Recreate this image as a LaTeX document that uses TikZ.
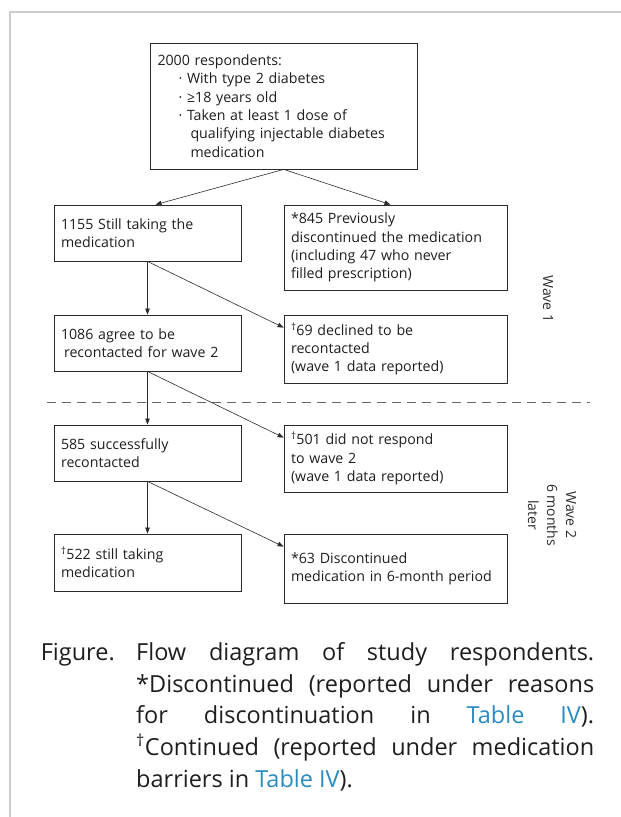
\documentclass[tikz,border=0pt]{standalone}
\usepackage{fontspec}
\setmainfont{Open Sans}
\usepackage{tikz}
\usetikzlibrary{arrows.meta, positioning, calc}
\definecolor{framegray}{HTML}{CCCCCC}
\definecolor{boxline}{HTML}{2B2B2B}
\definecolor{dashgray}{HTML}{666666}
\definecolor{linkblue}{HTML}{2A8BBF}
\definecolor{inkblack}{HTML}{1E1E1E}

\begin{document}
\begin{tikzpicture}[
    x=1pt, y=-1pt,
    flowbox/.style={draw=boxline, line width=0.8pt, align=left,
                    inner xsep=7pt, inner ysep=2pt, text=inkblack,
                    font=\fontsize{14.2}{18.3}\selectfont},
    leftbox/.style={flowbox, text width=173pt, minimum height=#1},
    rightbox/.style={flowbox, text width=209pt, minimum height=#1},
    conn/.style={-{Triangle[length=6pt,width=4.5pt]}, draw=boxline, line width=0.6pt},
    wavelabel/.style={rotate=-90, align=center, text=boxline,
                      font=\fontsize{14}{19}\selectfont},
    captext/.style={inner sep=0pt, text=inkblack, font=\fontsize{23.5}{31.7}\selectfont},
]
    \useasboundingbox (0,0) rectangle (621,817);
    \draw[framegray, line width=2pt] (10,817) -- (10,12) -- (621,12);

    % Row 1: all respondents
    \node[flowbox, text width=252.5pt, minimum height=126pt] (pool) at (283.75,106) {
        2000 respondents:\\
        \hspace*{21pt}· With type 2 diabetes\\
        \hspace*{21pt}· ≥18 years old\\
        \hspace*{21pt}· Taken at least 1 dose of\\
        \hspace*{33pt}qualifying injectable diabetes\\
        \hspace*{33pt}medication
    };

    % Row 2: still taking / discontinued
    \node[leftbox=56pt] (still) at (147.5,233) {
        1155 Still taking the\\
        medication
    };
    \node[rightbox=85pt] (prior) at (395.5,247.5) {
        *845 Previously\\
        discontinued the medication\\
        (including 47 who never\\
        filled prescription)
    };

    % Row 3: agree / declined
    \node[leftbox=56pt] (agree) at (147.5,343) {
        1086 agree to be\\
        \hspace*{3pt}recontacted for wave 2
    };
    \node[rightbox=68pt] (declined) at (395.5,349) {
        \textsuperscript{†}69 declined to be\\
        recontacted\\
        (wave 1 data reported)
    };

    % Row 4: wave 2 contact
    \node[leftbox=56pt] (reached) at (147.5,453) {
        585 successfully\\
        recontacted
    };
    \node[rightbox=67pt] (noreply) at (395.5,458.5) {
        \textsuperscript{†}501 did not respond\\
        to wave 2\\
        (wave 1 data reported)
    };

    % Row 5: outcome after 6 months
    \node[leftbox=57pt] (continued) at (147.5,562.5) {
        \textsuperscript{†}522 still taking\\
        medication
    };
    \node[rightbox=69pt] (stopped) at (395.5,568.5) {
        *63 Discontinued\\
        medication in 6-month period
    };

    % Wave labels and divider
    \node[wavelabel] (wave1) at (548,299) {Wave 1};
    \node[wavelabel] (wave2) at (552,515) {Wave 2\\6 months\\later};
    \draw[dashgray, line width=0.8pt, dash pattern=on 9pt off 6pt] (47,402) -- (590,402);

    % Connections
    \draw[conn] (pool.south) -- ([xshift=8pt]still.north);
    \draw[conn] (pool.south) -- ([xshift=-5pt]prior.north);
    \draw[conn] (still) -- (agree);
    \draw[conn] (still.south) -- ([yshift=-13pt]declined.north west);
    \draw[conn] (agree) -- (reached);
    \draw[conn] (agree.south) -- ([yshift=-13pt]noreply.north west);
    \draw[conn] (reached) -- (continued);
    \draw[conn] (reached.south) -- ([yshift=-13pt]stopped.north west);

    % Caption
    \node[captext, anchor=north west, text width=458pt, align=justify] (capbody) at (136,638) {%
        \strut Flow diagram of study respondents.\linebreak
        *Discontinued (reported under reasons\linebreak
        for discontinuation in \textcolor{linkblue}{Table IV}).\linebreak
        \textsuperscript{†}Continued (reported under medication\linebreak
        barriers in \textcolor{linkblue}{Table IV}).};
    \node[captext, anchor=north east] (caplabel) at ([xshift=-21pt]capbody.north west) {\strut Figure.};
\end{tikzpicture}
\end{document}
